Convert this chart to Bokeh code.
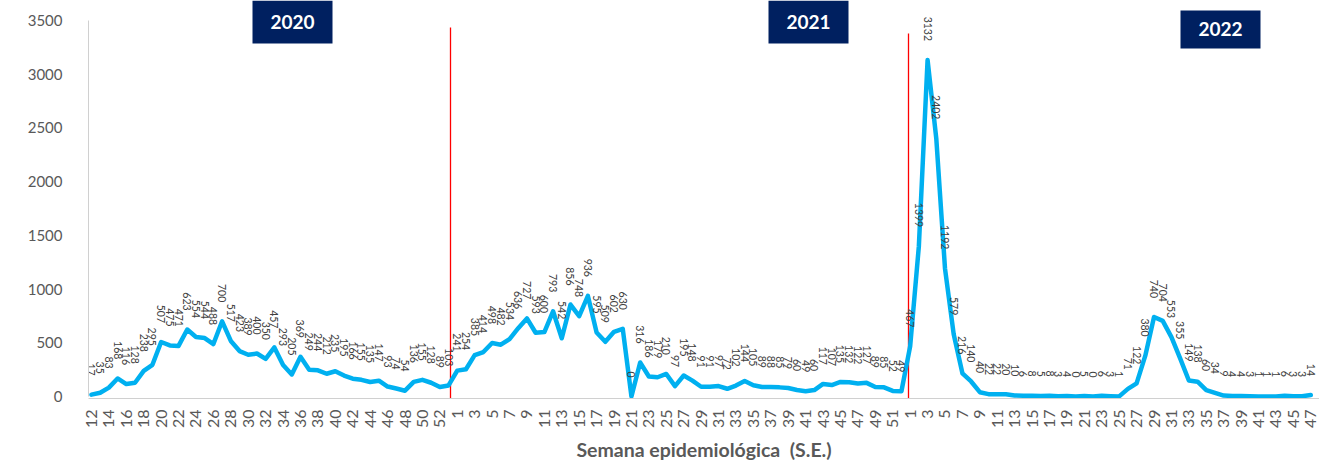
import math
from bokeh.plotting import figure
from bokeh.models import ColumnDataSource, FixedTicker, Range1d, BoxAnnotation, Label
from bokeh.core.properties import value
from bokeh.embed import file_html
from bokeh.resources import INLINE

# ---- data -------------------------------------------------------------
weeks_2020 = list(range(12, 54))
cases_2020 = [17, 35, 83, 168, 116, 128, 238, 295, 507, 475,
              471, 623, 554, 544, 488, 700, 517, 423, 389, 400,
              350, 457, 293, 205, 369, 249, 244, 212, 235, 195,
              166, 155, 135, 147, 93, 74, 54, 136, 155, 128,
              89, 103]
weeks_2021 = list(range(1, 53))
cases_2021 = [241, 254, 385, 414, 498, 482, 534, 636, 727, 593,
              600, 793, 542, 856, 748, 936, 595, 509, 602, 630,
              0, 316, 186, 179, 210, 97, 195, 148, 91, 91,
              97, 72, 102, 144, 105, 89, 88, 85, 79, 60,
              49, 60, 117, 107, 135, 132, 122, 127, 89, 85,
              52, 49]
weeks_2022 = list(range(1, 48))
cases_2022 = [467, 1399, 3132, 2402, 1192, 579, 216, 140, 40, 22,
              22, 20, 10, 6, 8, 5, 8, 3, 4, 0,
              5, 0, 6, 3, 1, 71, 122, 380, 740, 704,
              553, 355, 149, 138, 60, 34, 9, 4, 4, 3,
              1, 1, 1, 6, 3, 3, 14]
year_names = ["2020", "2021", "2022"]
y_ticks = [0, 500, 1000, 1500, 2000, 2500, 3000, 3500]
x_title = "Semana epidemiológica\u00a0\u00a0(S.E.)"

week_labels = [str(w) for w in weeks_2020 + weeks_2021 + weeks_2022]
cases = cases_2020 + cases_2021 + cases_2022
xs = list(range(len(cases)))

src = ColumnDataSource(dict(x=xs, y=cases, lab=[str(c) for c in cases]))

# ---- layout helpers (page pixel -> data) --------------------------------
W, H = 1319, 464
FL, FB = 88, 65
x0, x1 = -0.34, 141.0
y0, y1 = -18.6, 3685.7

def px2x(px):
    return x0 + (px - FL) / (W - FL) * (x1 - x0)

def px2y(py):
    return y1 - py / (H - FB) * (y1 - y0)

FONT = "Lato"
GREY = "#595959"

p = figure(width=W, height=H, output_backend="svg", toolbar_location=None,
           x_range=Range1d(x0, x1), y_range=Range1d(y0, y1),
           min_border_left=FL, min_border_right=0, min_border_top=0,
           min_border_bottom=FB)
p.outline_line_color = None
p.grid.visible = False
p.background_fill_color = "white"

# axes
p.yaxis.ticker = FixedTicker(ticks=y_ticks)
p.yaxis.bounds = (0, 3500)
p.yaxis.axis_line_color = "#d0d0d0"
p.yaxis.major_tick_line_color = None
p.yaxis.minor_tick_line_color = None
p.yaxis.major_label_standoff = 20
p.yaxis.major_label_text_font = FONT
p.yaxis.major_label_text_font_size = "15px"
p.yaxis.major_label_text_color = GREY

p.xaxis.ticker = FixedTicker(ticks=xs[::2])
p.xaxis.major_label_overrides = {i: week_labels[i] for i in xs[::2]}
p.xaxis.major_label_orientation = math.pi / 2
p.xaxis.axis_line_color = "#d0d0d0"
p.xaxis.major_tick_line_color = None
p.xaxis.minor_tick_line_color = None
p.xaxis.major_label_standoff = 5
p.xaxis.major_label_text_font = FONT
p.xaxis.major_label_text_font_size = "16px"
p.xaxis.major_label_text_color = GREY
p.xaxis.axis_label = x_title
p.xaxis.axis_label_standoff = 7
p.xaxis.axis_label_text_font = FONT
p.xaxis.axis_label_text_font_size = "19.5px"
p.xaxis.axis_label_text_font_style = "bold"
p.xaxis.axis_label_text_color = GREY

# year separators
for px, ptop in [(450, 27), (908, 33)]:
    p.segment(x0=[px2x(px)], y0=[y0], x1=[px2x(px)], y1=[px2y(ptop)],
              line_color="#ff0000", line_width=1.3)

# line
p.line("x", "y", source=src, line_color="#00B0F0", line_width=4.5,
       line_join="round", line_cap="round")

# data labels
p.text("x", "y", text="lab", source=src, angle=-math.pi / 2,
       text_align="right", text_baseline="middle", y_offset=-19,
       text_font=value(FONT), text_font_size="10.5px", text_color="#404040")

# year boxes
boxes = [(252, 332, 0, 43), (768, 848, 0, 43), (1180, 1260, 10, 48)]
for name, (l, r, t, b) in zip(year_names, boxes):
    p.add_layout(BoxAnnotation(left=px2x(l), right=px2x(r), top=px2y(t), bottom=px2y(b),
                               fill_color="#002060", fill_alpha=1.0, line_color=None))
    p.add_layout(Label(x=px2x((l + r) / 2), y=px2y((t + b) / 2), text=name,
                       text_align="center", text_baseline="middle",
                       text_font=FONT, text_font_size="19px", text_font_style="bold",
                       text_color="white"))

open("out.html", "w").write(file_html(p, INLINE))
